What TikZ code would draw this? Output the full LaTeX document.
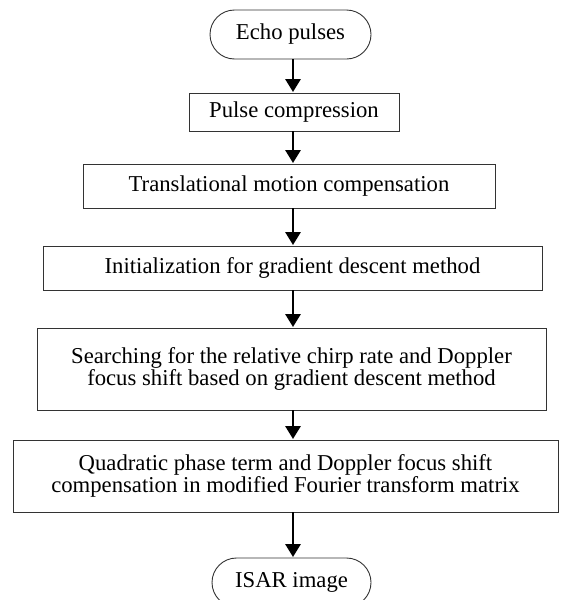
\documentclass[tikz,border=0pt]{standalone}
\usepackage{fontspec}
\setmainfont{Liberation Serif}
\usetikzlibrary{arrows.meta}
\tikzset{
  box/.style={draw=black!80, line width=0.9pt, rectangle, align=center, inner sep=0pt,
    font=\fontsize{22.7}{21.5}\selectfont},
  term/.style={box, rounded corners=24.5pt},
  arr/.style={line width=2.8pt, -{Triangle[length=13pt,width=15pt]}, shorten >=0.5pt}
}
\begin{document}
\begin{tikzpicture}[x=1pt,y=-1pt]
\useasboundingbox (0,0) rectangle (560,600);
\coordinate (ax) at (293,0);
\node[term, minimum width=161pt, minimum height=49pt] (echo) at (290.5,34.5) {Echo pulses};
\node[box, minimum width=210pt, minimum height=38pt] (pulse) at (294,112) {Pulse compression};
\node[box, minimum width=412pt, minimum height=44pt] (trans) at (289,186) {Translational motion compensation};
\node[box, minimum width=499pt, minimum height=44pt] (init) at (292.5,268) {Initialization for gradient descent method};
\node[box, minimum width=509pt, minimum height=82pt] (search) at (291.5,369) {Searching for the relative chirp rate and Doppler\\focus shift based on gradient descent method};
\node[box, minimum width=545pt, minimum height=72pt] (quad) at (285.5,476) {Quadratic phase term and Doppler focus shift\\compensation in modified Fourier transform matrix};
\node[term, minimum width=159pt, minimum height=49pt] (isar) at (291.5,582.5) {ISAR image};
\draw[arr] (echo.south -| ax) -- (pulse.north -| ax);
\draw[arr] (pulse.south -| ax) -- (trans.north -| ax);
\draw[arr] (trans.south -| ax) -- (init.north -| ax);
\draw[arr] (init.south -| ax) -- (search.north -| ax);
\draw[arr] (search.south -| ax) -- (quad.north -| ax);
\draw[arr] (quad.south -| ax) -- (isar.north -| ax);
\end{tikzpicture}
\end{document}
